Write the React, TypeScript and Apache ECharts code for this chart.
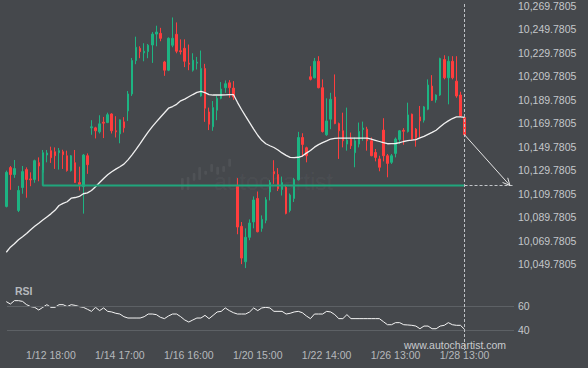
import React, { useEffect, useRef } from 'react';
import * as echarts from 'echarts';

// ---- data ----
const OPEN = [10099.0, 10132.0, 10126.1, 10095.6, 10115.1, 10130.3, 10122.4, 10121.9, 10136.2, 10128.0,
  10142.7, 10146.4, 10145.5, 10144.7, 10145.5, 10142.1, 10129.5, 10136.2, 10119.3, 10115.9,
  10142.1, 10165.8, 10165.8, 10162.4, 10170.6, 10170.3, 10177.6, 10163.3, 10160.7, 10170.9,
  10180.2, 10194.6, 10223.0, 10233.4, 10229.5, 10230.6, 10236.2, 10245.5, 10246.1, 10221.8,
  10214.8, 10236.0, 10245.3, 10231.3, 10233.4, 10220.8, 10214.8, 10220.8, 10192.9, 10216.3,
  10179.3, 10166.7, 10180.8, 10190.9, 10199.9, 10204.1, 10199.6, 10115.9, 10082.1, 10052.0,
  10072.8, 10085.8, 10105.8, 10080.4, 10087.2, 10111.3, 10128.6, 10126.1, 10113.4, 10115.3,
  10095.6, 10105.8, 10121.7, 10157.6, 10148.9, 10209.2, 10208.3, 10222.4, 10199.9, 10159.9,
  10173.2, 10192.0, 10169.4, 10163.3, 10152.0, 10156.3, 10144.7, 10152.0, 10164.4, 10164.7,
  10154.8, 10144.9, 10139.4, 10163.9, 10142.1, 10136.5, 10144.1, 10155.9, 10163.7, 10162.7,
  10177.4, 10164.7, 10175.1, 10172.3, 10181.6, 10201.3, 10189.5, 10193.7, 10223.9, 10208.3,
  10222.4, 10205.5, 10193.7, 10174.5];
const CLOSE = [10128.0, 10126.1, 10131.2, 10112.6, 10128.6, 10121.9, 10121.6, 10137.9, 10133.4, 10144.7,
  10144.4, 10140.4, 10142.1, 10146.4, 10143.0, 10129.5, 10142.1, 10119.3, 10117.6, 10142.7,
  10134.5, 10166.7, 10163.3, 10169.2, 10169.8, 10177.0, 10163.3, 10162.4, 10172.6, 10165.8,
  10194.6, 10223.0, 10234.3, 10230.5, 10230.9, 10236.0, 10245.5, 10247.2, 10241.9, 10214.8,
  10241.9, 10241.9, 10230.9, 10230.5, 10222.4, 10219.9, 10223.3, 10221.6, 10216.3, 10182.5,
  10168.9, 10183.0, 10190.9, 10198.8, 10203.3, 10199.9, 10192.0, 10081.5, 10055.1, 10072.8,
  10084.9, 10104.5, 10077.5, 10088.0, 10104.7, 10119.3, 10126.7, 10114.0, 10119.3, 10093.1,
  10108.7, 10121.9, 10157.6, 10151.7, 10142.1, 10207.0, 10222.4, 10199.9, 10162.7, 10171.7,
  10190.1, 10169.4, 10163.3, 10154.8, 10155.4, 10150.6, 10154.8, 10162.7, 10165.6, 10154.8,
  10142.1, 10140.7, 10132.3, 10142.1, 10135.6, 10142.1, 10156.3, 10163.3, 10162.9, 10176.8,
  10156.3, 10157.6, 10171.7, 10183.6, 10202.2, 10189.2, 10193.7, 10224.7, 10208.3, 10222.4,
  10208.3, 10192.9, 10175.9, 10159.9];
const LOW = [10098.2, 10113.1, 10123.3, 10094.2, 10109.8, 10106.4, 10116.2, 10119.1, 10120.4, 10127.4,
  10136.5, 10136.0, 10130.9, 10130.3, 10130.9, 10128.6, 10128.6, 10119.1, 10112.6, 10092.9,
  10126.7, 10159.9, 10156.8, 10161.0, 10157.1, 10169.8, 10161.0, 10157.6, 10152.7, 10161.8,
  10171.7, 10192.9, 10219.9, 10225.0, 10222.4, 10225.0, 10221.0, 10235.1, 10239.4, 10210.0,
  10214.0, 10234.3, 10229.2, 10228.1, 10217.4, 10214.8, 10213.6, 10215.4, 10192.3, 10170.9,
  10163.9, 10163.3, 10172.3, 10190.1, 10195.6, 10191.4, 10189.5, 10075.4, 10050.0, 10046.6,
  10070.3, 10080.4, 10077.0, 10077.5, 10084.7, 10104.1, 10118.2, 10112.1, 10108.3, 10092.3,
  10094.0, 10102.8, 10121.0, 10141.3, 10136.5, 10206.1, 10207.8, 10199.4, 10161.8, 10159.0,
  10164.7, 10168.9, 10139.4, 10149.2, 10146.4, 10147.8, 10132.3, 10149.2, 10154.8, 10146.4,
  10141.7, 10137.3, 10128.9, 10137.3, 10123.8, 10135.1, 10140.7, 10152.0, 10151.4, 10161.8,
  10154.8, 10149.8, 10157.6, 10170.3, 10180.8, 10188.6, 10187.2, 10192.9, 10207.0, 10185.8,
  10207.0, 10191.4, 10175.1, 10159.5];
const HIGH = [10129.5, 10133.4, 10138.5, 10116.5, 10133.4, 10132.2, 10128.0, 10138.8, 10140.7, 10147.0,
  10147.0, 10149.8, 10149.2, 10148.7, 10147.2, 10146.4, 10142.7, 10147.0, 10132.8, 10143.6,
  10144.1, 10172.3, 10166.7, 10176.5, 10175.1, 10178.7, 10178.2, 10175.7, 10173.0, 10174.9,
  10197.1, 10225.2, 10243.3, 10235.1, 10237.7, 10237.1, 10247.2, 10252.6, 10250.8, 10222.7,
  10242.7, 10259.6, 10255.4, 10241.0, 10241.0, 10236.6, 10229.2, 10226.1, 10231.5, 10220.2,
  10183.0, 10188.6, 10192.9, 10204.7, 10206.1, 10206.4, 10205.5, 10123.1, 10085.8, 10080.4,
  10088.0, 10107.5, 10111.7, 10091.4, 10106.9, 10121.4, 10138.3, 10131.6, 10124.4, 10116.8,
  10110.0, 10123.3, 10162.4, 10161.2, 10149.8, 10218.2, 10225.2, 10226.7, 10207.0, 10190.9,
  10195.6, 10211.2, 10170.3, 10178.7, 10183.0, 10161.8, 10157.6, 10170.3, 10171.1, 10166.7,
  10157.6, 10147.8, 10142.1, 10174.0, 10143.6, 10143.6, 10157.6, 10163.9, 10165.6, 10187.2,
  10177.9, 10165.6, 10184.4, 10184.4, 10207.0, 10210.6, 10194.3, 10225.4, 10227.5, 10226.7,
  10226.7, 10226.7, 10196.5, 10175.1];
const MA = [10060.1, 10064.4, 10067.3, 10070.7, 10073.3, 10076.0, 10079.2, 10082.1, 10084.7, 10087.5,
  10090.1, 10092.7, 10095.7, 10099.8, 10101.6, 10103.0, 10106.0, 10106.6, 10107.5, 10109.8,
  10110.5, 10112.6, 10115.8, 10119.3, 10122.7, 10125.9, 10128.5, 10130.7, 10132.8, 10135.0,
  10138.6, 10142.8, 10147.5, 10152.3, 10157.4, 10162.4, 10166.8, 10170.9, 10174.8, 10178.6,
  10182.5, 10183.9, 10185.8, 10188.8, 10190.2, 10192.2, 10194.1, 10195.9, 10196.8, 10195.8,
  10194.1, 10193.7, 10193.7, 10193.7, 10193.9, 10194.0, 10194.1, 10187.5, 10181.4, 10175.8,
  10170.3, 10164.7, 10159.5, 10155.2, 10152.3, 10150.6, 10149.1, 10147.0, 10144.5, 10142.4,
  10140.7, 10140.5, 10140.8, 10141.8, 10144.3, 10146.5, 10149.4, 10151.5, 10153.2, 10154.7,
  10156.3, 10156.8, 10157.1, 10157.1, 10157.1, 10157.1, 10157.1, 10157.1, 10157.1, 10157.0,
  10156.2, 10155.2, 10154.2, 10153.2, 10152.3, 10152.4, 10152.5, 10153.2, 10154.2, 10155.0,
  10155.3, 10155.8, 10157.2, 10158.5, 10160.2, 10161.9, 10163.8, 10166.7, 10169.5, 10171.7,
  10173.7, 10175.1, 10175.1, 10174.7];
const RSI = [63.6, 61.6, 64.4, 64.4, 63.8, 61.1, 59.5, 58.9, 56.7, 58.9,
  61.1, 58.9, 58.9, 61.1, 61.1, 59.5, 61.1, 60.5, 59.5, 58.9,
  57.3, 55.6, 58.9, 56.2, 58.4, 55.6, 55.1, 54.0, 53.4, 51.2,
  50.1, 50.1, 50.1, 50.1, 51.2, 53.4, 53.4, 52.9, 50.7, 49.6,
  51.8, 53.4, 53.4, 51.2, 48.5, 46.8, 48.5, 50.1, 50.1, 52.3,
  49.6, 52.3, 55.1, 55.6, 58.4, 56.2, 54.5, 53.4, 53.4, 53.4,
  55.1, 58.4, 56.2, 58.4, 58.9, 58.4, 55.6, 55.6, 55.6, 53.4,
  54.0, 55.1, 55.6, 54.5, 51.8, 49.6, 53.4, 53.4, 53.4, 55.6,
  55.1, 52.9, 49.6, 49.6, 52.9, 49.6, 49.6, 49.6, 49.6, 49.6,
  49.6, 49.6, 49.6, 47.1, 44.6, 44.6, 46.3, 46.3, 44.6, 44.4,
  44.1, 43.5, 41.3, 43.5, 43.5, 41.3, 41.3, 43.5, 44.1, 46.3,
  44.6, 44.1, 44.1, 40.8];
const X_LABELS = ['1/12 18:00', '1/14 17:00', '1/16 16:00', '1/20 15:00', '1/22 14:00', '1/26 13:00', '1/28 13:00'];
const X_LABEL_INDEX = [11, 28, 45, 62, 79, 96, 113];
const RSI_LEVELS = [40, 60];
const PATTERN_LEVEL = 10116.8;
const PATTERN_TOP = 10130.0;
const PATTERN_START = 9;
const TARGET_INDEX = 124.2;
const X_END = 125.2;
const SLOTS = 126; // candle slots incl. empty future area

const GREEN = '#1db482';
const RED = '#ff3d3d';
const LINE_GREEN = '#20a67c';
const BG = '#45484c';
const FONT = '"Liberation Sans", Arial, sans-serif';

function fmtPrice(v: number): string {
  const base = Math.round(v - 0.7805);
  return base.toLocaleString('en-US') + '.7805';
}

export default function App() {
  const ref = useRef<HTMLDivElement>(null);
  useEffect(() => {
    if (!ref.current) return;
    const chart = echarts.init(ref.current, null, { renderer: 'svg' });
    const N = OPEN.length;
    const candleData = OPEN.map((o, i) => [i, o, CLOSE[i], LOW[i], HIGH[i]]);
    const maData = MA.map((v, i) => [i, v]);
    const rsiData = RSI.map((v, i) => [i, v]);
    const slotNames: string[] = [];
    for (let i = 0; i < SLOTS; i++) {
      const k = X_LABEL_INDEX.indexOf(i);
      slotNames.push(k >= 0 ? X_LABELS[k] : '');
    }

    chart.setOption({
      animation: false,
      backgroundColor: BG,
      textStyle: { fontFamily: FONT },
      grid: [
        { left: 7, top: 4, width: 507, height: 283.9 },
        { left: 7, top: 293.85, width: 507, height: 48.6 },
        { left: 4.27, top: 293.85, width: SLOTS * 4.055, height: 48.6 },
      ],
      xAxis: [
        { type: 'value', gridIndex: 0, min: 0.17, max: X_END, show: false },
        { type: 'value', gridIndex: 1, min: 0.17, max: X_END, show: false },
        {
          type: 'category', gridIndex: 2, data: slotNames, boundaryGap: true,
          axisLine: { show: false }, axisTick: { show: false }, splitLine: { show: false },
          axisLabel: { interval: 0, color: '#b6b9bd', fontSize: 10.5, lineHeight: 10, fontFamily: FONT, margin: 7.5 },
        },
      ],
      yAxis: [
        {
          type: 'value', gridIndex: 0, position: 'right', min: 10029.7805, max: 10269.7805, interval: 20,
          axisLine: { show: false }, axisTick: { show: false }, splitLine: { show: false },
          axisLabel: { color: '#c4c7ca', fontSize: 10.5, fontFamily: FONT, margin: 4, showMinLabel: false, formatter: fmtPrice },
        },
        {
          type: 'value', gridIndex: 1, position: 'right', min: 30, max: 70, interval: 10,
          axisLine: { show: false }, axisTick: { show: false }, splitLine: { show: false },
          axisLabel: {
            color: '#c4c7ca', fontSize: 10.5, fontFamily: FONT, margin: 4,
            formatter: (v: number) => (RSI_LEVELS.indexOf(Math.round(v)) >= 0 ? String(Math.round(v)) : ''),
          },
        },
        { type: 'value', gridIndex: 2, min: 0, max: 1, show: false },
      ],
      series: [
        {
          type: 'candlestick', xAxisIndex: 0, yAxisIndex: 0, data: candleData, barWidth: 2,
          itemStyle: { color: GREEN, color0: RED, borderColor: GREEN, borderColor0: RED, borderWidth: 1 },
          z: 2,
        },
        {
          type: 'line', xAxisIndex: 0, yAxisIndex: 0, data: maData, symbol: 'none',
          lineStyle: { color: '#f0f0f0', width: 1.3 }, z: 3,
        },
        {
          type: 'line', xAxisIndex: 0, yAxisIndex: 0, symbol: 'none',
          data: [[PATTERN_START, PATTERN_TOP], [PATTERN_START, PATTERN_LEVEL], [N - 1, PATTERN_LEVEL]],
          lineStyle: { color: LINE_GREEN, width: 2 }, z: 4,
        },
        {
          type: 'line', xAxisIndex: 0, yAxisIndex: 0, symbol: 'none',
          data: [[N - 1, PATTERN_LEVEL], [X_END, PATTERN_LEVEL]],
          lineStyle: { color: '#c2c5c9', width: 1, type: [3, 2] }, z: 4,
        },
        {
          type: 'line', xAxisIndex: 1, yAxisIndex: 1, data: rsiData, symbol: 'none',
          lineStyle: { color: '#f4f4f4', width: 1 }, z: 3,
          markLine: {
            silent: true, symbol: ['none', 'none'], label: { show: false },
            lineStyle: { color: '#5d6165', type: 'solid', width: 1 },
            data: RSI_LEVELS.map((lv) => [{ coord: [0.17, lv] }, { coord: [X_END, lv] }]),
          },
        },
      ],
    });

    const [x1, y1] = chart.convertToPixel({ gridIndex: 0 }, [N - 1, CLOSE[N - 1]]) as number[];
    const [x2, y2] = chart.convertToPixel({ gridIndex: 0 }, [TARGET_INDEX, PATTERN_LEVEL]) as number[];
    const ang = Math.atan2(y2 - y1, x2 - x1);
    const L = 8;
    const a = 0.45;
    const p1 = [x2 - L * Math.cos(ang - a), y2 - L * Math.sin(ang - a)];
    const p2 = [x2 - L * Math.cos(ang + a), y2 - L * Math.sin(ang + a)];

    const logo = [
      [181, 178, 190], [186.7, 177, 190], [192.7, 173, 180.7], [198.3, 167, 180], [204.3, 170.7, 174.7],
      [210.3, 164, 172], [216.3, 166.7, 174.7], [222.3, 166, 172], [228.3, 158.7, 166.7],
    ];

    chart.setOption({
      graphic: [
        ...logo.map((b, i) => ({
          id: 'logo' + i, type: 'rect', silent: true, z: 1,
          shape: { x: b[0], y: b[1], width: 2.7, height: b[2] - b[1], r: 1 },
          style: { fill: 'rgba(255,255,255,0.06)' },
        })),
        {
          id: 'wm', type: 'text', x: 214, y: 182, silent: true, z: 1,
          style: { text: 'autochartist', fill: 'rgba(255,255,255,0.05)', font: '23px ' + FONT, verticalAlign: 'middle' },
        },
        {
          id: 'vline', type: 'line', silent: true, z: 50,
          shape: { x1: x1, y1: 4, x2: x1, y2: 350 },
          style: { stroke: '#c2c5c9', lineWidth: 1, lineDash: [3, 2] },
        },
        {
          id: 'arrow', type: 'line', silent: true, z: 50,
          shape: { x1, y1, x2, y2 },
          style: { stroke: '#e4e4e4', lineWidth: 1 },
        },
        {
          id: 'arrowhead', type: 'polyline', silent: true, z: 50,
          shape: { points: [p1, [x2, y2], p2] },
          style: { stroke: '#e4e4e4', lineWidth: 1, fill: 'none' },
        },
        {
          id: 'rsi', type: 'text', x: 15, y: 291, silent: true, z: 50,
          style: { text: 'RSI', fill: '#b6b9bd', font: 'bold 10.5px ' + FONT, verticalAlign: 'middle' },
        },
        {
          id: 'site', type: 'text', x: 404, y: 344.5, silent: true, z: 60,
          style: { text: 'www.autochartist.com', fill: '#c8cbce', font: '10.5px ' + FONT, lineHeight: 10, verticalAlign: 'middle' },
        },
      ],
    });

    return () => chart.dispose();
  }, []);
  return <div ref={ref} style={{ position: 'fixed', left: 0, top: 0, width: 588, height: 368 }} />;
}
